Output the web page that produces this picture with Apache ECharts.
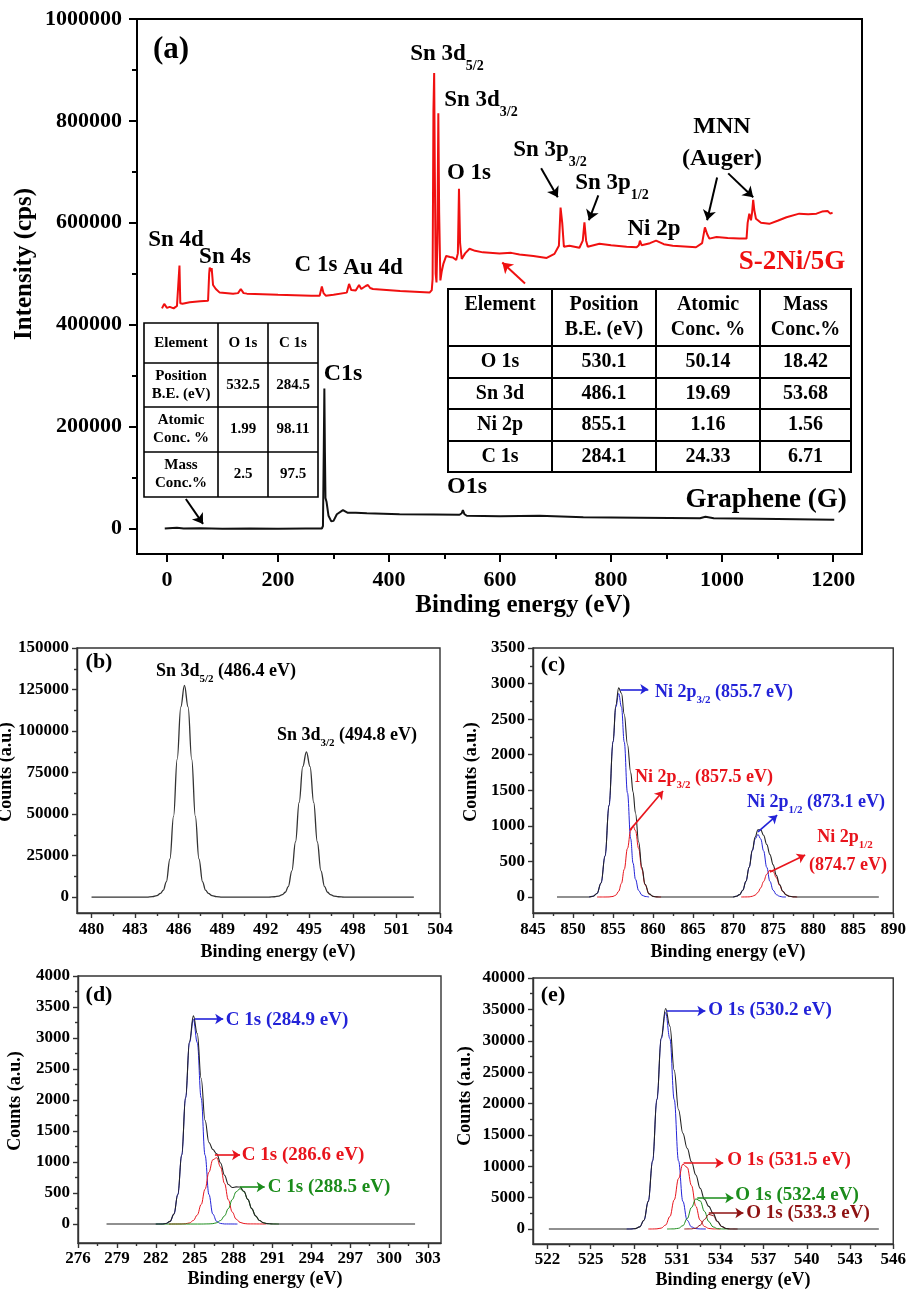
<!DOCTYPE html>
<html><head><meta charset="utf-8">
<script src="https://cdn.jsdelivr.net/npm/echarts@6/dist/echarts.min.js"></script>
<style>html,body{margin:0;padding:0;background:#fff}#c{width:909px;height:1290px}</style>
</head><body><div id="c"></div>
<script>
// ---------- DATA ----------
// (a) survey spectra [binding energy eV, intensity cps]
const aRed = [[-9,432000],[-5,441000],[0,433000],[5,435000],[12,432000],[18,437000],[21,440000],[22.5,516000],[24,442000],[28,441000],[41,444000],[60,446000],[74,447000],[76,500000],[77,512000],[79,505000],[80.5,511000],[83,478000],[88,470000],[95,463000],[119,461000],[128,462000],[133,470000],[138,462000],[144,461000],[200,459000],[260,457000],[275,457000],[279,475000],[282,462000],[286,457000],[300,459000],[324,463000],[328,480000],[332,468000],[340,467000],[346,478000],[350,470000],[353,468000],[358,476000],[362,478000],[366,472000],[371,470000],[420,466000],[473,463000],[477,468000],[478.5,490000],[480,820000],[481.3,894000],[482.5,700000],[484,500000],[485.5,483000],[487,560000],[488.8,815000],[490.3,620000],[492.5,487000],[495,505000],[498,520000],[503,535000],[510,533000],[515,532000],[521,527000],[524,540000],[526,667000],[528,560000],[531,529000],[537,540000],[545,549000],[555,545000],[569,542000],[599,540000],[620,541000],[635,538000],[660,535000],[684,531000],[698,539000],[706,555000],[709,630000],[712,600000],[715,553000],[725,555000],[743,551000],[749,565000],[752,601000],[755,565000],[758,553000],[779,559000],[800,556000],[828,553000],[846,552000],[850,556000],[852,565000],[855,556000],[857,555000],[870,560000],[881,565000],[895,558000],[911,555000],[953,552000],[964,560000],[969,591000],[973,578000],[977,569000],[990,572000],[1010,570000],[1031,569000],[1044,569000],[1046,600000],[1049,618000],[1052,605000],[1054,620000],[1056,645000],[1058,625000],[1061,608000],[1070,600000],[1085,598000],[1100,604000],[1116,611000],[1139,618000],[1155,617000],[1170,618000],[1180,622000],[1190,623000],[1195,618000],[1199,620000]];
const aBlack = [[-4,0],[10,1000],[18,1500],[30,0],[60,500],[100,-500],[150,0],[200,-500],[250,0],[279,0],[281,5000],[282.5,160000],[283.5,275000],[284.5,150000],[285.5,60000],[287.5,52000],[291,25000],[296,14000],[300,15000],[306,28000],[317,36000],[325,31000],[340,31000],[360,30000],[419,28000],[480,27500],[527,27000],[531,30000],[533,36000],[536,28000],[540,25000],[600,24000],[671,25000],[750,22000],[850,21000],[960,20000],[970,23000],[985,20000],[1100,18500],[1202,17000]];
const aArrowsBlack = [[[674,707000],[704,650000]],[[777,654000],[760,605000]],[[991,689000],[973,605000]],[[1011,697000],[1056,650000]],[[34,58000],[65,9000]]];
const aArrowsRed = [[[645,481000],[604,522000]]];

// (b) Sn 3d
const bSn = [[480,0],[482,0],[483.8,0],[484.2,300],[484.5,900],[484.75,2200],[484.95,4200],[485.15,9200],[485.4,23000],[485.65,48600],[485.9,83000],[486.15,114500],[486.4,127500],[486.65,114500],[486.9,83000],[487.15,48600],[487.4,23000],[487.65,9200],[487.85,4200],[488.05,2200],[488.3,900],[488.6,300],[489,0],[491,0],[492.2,0],[492.6,200],[492.9,620],[493.15,1500],[493.35,2900],[493.55,6300],[493.8,15800],[494.05,33300],[494.3,57000],[494.55,78600],[494.8,87500],[495.05,78600],[495.3,57000],[495.55,33300],[495.8,15800],[496.05,6300],[496.25,2900],[496.45,1500],[496.7,620],[497,200],[497.4,0],[499,0],[502.2,0]];

// (c) Ni 2p
const cSum = [[848,0],[852,0],[852.5,10],[853,50],[853.5,196],[854,577],[854.5,1288],[855,2187],[855.35,2698],[855.7,2940],[856.05,2864],[856.4,2568],[856.8,2146],[857.2,1753],[857.5,1475],[857.8,1181],[858.2,772],[858.6,416],[859,179],[859.5,44],[860,8],[860.5,1],[861,0],[870,0],[870.4,10],[870.8,33],[871.2,95],[871.6,220],[872,419],[872.4,660],[872.75,842],[873.1,945],[873.45,944],[873.8,867],[874.2,737],[874.6,596],[875,452],[875.4,304],[875.8,175],[876.2,80],[876.6,31],[877,10],[877.5,2],[878,0],[888.2,0]];
const cBlue1 = [[852,0],[852.5,10],[853,50],[853.5,196],[854,577],[854.5,1287],[855,2179],[855.35,2671],[855.7,2860],[856.05,2671],[856.4,2179],[856.8,1464],[857.2,821],[857.5,475],[857.8,249],[858.2,90],[858.6,27],[859,7],[859.5,0]];
const cRed1 = [[853,0],[854,0],[854.5,1],[855,8],[855.35,27],[855.7,80],[856.05,193],[856.4,389],[856.8,682],[857.2,932],[857.5,1000],[857.8,932],[858.2,682],[858.6,389],[859,172],[859.5,44],[860,8],[860.5,1],[861,0]];
const cBlue2 = [[870,0],[870.4,10],[870.8,33],[871.2,95],[871.6,219],[872,417],[872.4,650],[872.75,815],[873.1,880],[873.45,815],[873.8,650],[874.2,417],[874.6,219],[875,95],[875.4,33],[875.8,10],[876.2,0],[876.6,0]];
const cRed2 = [[871,0],[871.6,1],[872,2],[872.4,10],[872.75,27],[873.1,65],[873.45,129],[873.8,217],[874.2,320],[874.6,377],[875,357],[875.4,271],[875.8,165],[876.2,80],[876.6,31],[877,10],[877.5,2],[878,0]];
const cArrowsBlue = [[[855.9,2920],[859.4,2920]],[[873.1,915],[875.5,1150]]];
const cArrowsRed = [[[857.1,940],[861.25,1490]],[[874.6,350],[879,590]]];

// (d) C 1s
const dSum = [[278.2,0],[282,0],[282.5,1],[282.8,9],[283.1,42],[283.4,160],[283.7,477],[284,1112],[284.3,2039],[284.6,2942],[284.9,3357],[285.2,3070],[285.5,2348],[285.8,1673],[286.1,1316],[286.4,1203],[286.7,1132],[287,983],[287.3,787],[287.6,638],[287.9,588],[288.2,599],[288.5,597],[288.8,528],[289.1,397],[289.4,249],[289.7,131],[290,57],[290.3,21],[290.6,6],[290.9,2],[291.3,0],[302,0]];
const dBlue = [[282,0],[282.5,1],[282.8,9],[283.1,42],[283.4,160],[283.7,477],[284,1111],[284.3,2034],[284.6,2924],[284.9,3300],[285.2,2924],[285.5,2034],[285.8,1111],[286.1,477],[286.4,160],[286.7,42],[287,9],[287.3,1],[288.3,0]];
const dRed = [[283,0],[284,1],[284.3,5],[284.6,18],[284.9,57],[285.2,146],[285.5,314],[285.8,562],[286.1,837],[286.4,1037],[286.7,1069],[287,917],[287.3,655],[287.6,389],[287.9,193],[288.2,79],[288.5,27],[288.8,8],[289.1,2],[290.5,0]];
const dGreen = [[282,0],[285.5,0],[286.1,2],[286.4,6],[286.7,21],[287,57],[287.3,131],[287.6,249],[287.9,395],[288.2,520],[288.5,570],[288.8,520],[289.1,395],[289.4,249],[289.7,131],[290,57],[290.3,21],[290.6,6],[290.9,2],[291.5,0]];
const dArrowsBlue = [[[285,3306],[287.2,3306]]];
const dArrowsRed = [[[286.56,1113],[288.5,1113]]];
const dArrowsGreen = [[[288.5,597],[290.4,597]]];

// (e) O 1s
const eSum = [[522.1,0],[527.5,0],[527.8,9],[528.1,63],[528.4,337],[528.7,1390],[529,4410],[529.3,10843],[529.6,20656],[529.9,30477],[530.2,35128],[530.5,32312],[530.8,25287],[531.1,19000],[531.4,15271],[531.7,12861],[532,10710],[532.3,8606],[532.6,6483],[532.9,4730],[533.2,3600],[533.5,2487],[533.8,1238],[534.1,393],[534.4,76],[534.7,9],[535,0],[545,0]];
const eBlue = [[527.5,0],[527.8,9],[528.1,63],[528.4,337],[528.7,1390],[529,4410],[529.3,10840],[529.6,20630],[529.9,30330],[530.2,34500],[530.5,30330],[530.8,20630],[531.1,10840],[531.4,4410],[531.7,1390],[532,337],[532.3,63],[532.6,9],[533,0]];
const eRed = [[529,0],[529.3,3],[529.6,26],[529.9,147],[530.2,628],[530.5,1982],[530.8,4640],[531.1,8045],[531.4,10330],[531.7,9822],[532,6922],[532.3,3613],[532.6,1399],[532.9,400],[533.2,85],[533.5,13],[534,0]];
const eGreen = [[530.3,0],[530.8,17],[531.1,115],[531.4,531],[531.7,1649],[532,3432],[532.3,4792],[532.6,4483],[532.9,2811],[533.2,1183],[533.5,333],[533.8,63],[534.1,8],[534.6,0]];
const eDarkRed = [[531.5,0],[532,19],[532.3,138],[532.6,592],[532.9,1519],[533.2,2332],[533.5,2141],[533.8,1175],[534.1,385],[534.4,76],[534.7,9],[535.2,0]];
const eArrowsBlue = [[[530.27,34740],[532.96,34740]]];
const eArrowsRed = [[[531.45,10520],[534.2,10520]]];
const eArrowsGreen = [[[532.4,4940],[534.9,4940]]];
const eArrowsDarkRed = [[[533.2,2550],[535.6,2550]]];

// tick values
const aXTicks = [0,200,400,600,800,1000,1200];
const aXMinor = [100,300,500,700,900,1100];
const aYTicks = [0,200000,400000,600000,800000,1000000];
const aYMinor = [100000,300000,500000,700000,900000];
const bXTicks = [480,483,486,489,492,495,498,501,504];
const bXMinor = [481.5,484.5,487.5,490.5,493.5,496.5,499.5,502.5];
const bYTicks = [0,25000,50000,75000,100000,125000,150000];
const bYMinor = [12500,37500,62500,87500,112500,137500];
const cXTicks = [845,850,855,860,865,870,875,880,885,890];
const cXMinor = [847.5,852.5,857.5,862.5,867.5,872.5,877.5,882.5,887.5];
const cYTicks = [0,500,1000,1500,2000,2500,3000,3500];
const cYMinor = [250,750,1250,1750,2250,2750,3250];
const dXTicks = [276,279,282,285,288,291,294,297,300,303];
const dXMinor = [277.5,280.5,283.5,286.5,289.5,292.5,295.5,298.5,301.5];
const dYTicks = [0,500,1000,1500,2000,2500,3000,3500,4000];
const dYMinor = [250,750,1250,1750,2250,2750,3250,3750];
const eXTicks = [522,525,528,531,534,537,540,543,546];
const eXMinor = [523.5,526.5,529.5,532.5,535.5,538.5,541.5,544.5];
const eYTicks = [0,5000,10000,15000,20000,25000,30000,35000,40000];
const eYMinor = [2500,7500,12500,17500,22500,27500,32500,37500];

// tables
const bigHead = [['Element'],['Position','B.E. (eV)'],['Atomic','Conc. %'],['Mass','Conc.%']];
const bigRows = [['O 1s','530.1','50.14','18.42'],['Sn 3d','486.1','19.69','53.68'],['Ni 2p','855.1','1.16','1.56'],['C 1s','284.1','24.33','6.71']];
const smallRows = [[['Element'],['O 1s'],['C 1s']],[['Position','B.E. (eV)'],['532.5'],['284.5']],[['Atomic','Conc. %'],['1.99'],['98.11']],[['Mass','Conc.%'],['2.5'],['97.5']]];

// ---------- BUILD ----------
const FF = '"Liberation Serif","Times New Roman",Times,serif';
const BLUE = '#2323d8', RED = '#e8141c', GREEN = '#1b8c1b', DRED = '#8e1212';

const panels = [
  {g:{left:137,top:19,width:725,height:535}, x:[-54,1252], y:[-50000,1000000], xt:aXTicks, xm:aXMinor, yt:aYTicks, ym:aYMinor, fs:22, xmg:15, ymg:15, tl:8, ml:5, lw:2, col:'#000'},
  {g:{left:77,top:648,width:363,height:265}, x:[479,504], y:[-9600,150000], xt:bXTicks, xm:bXMinor, yt:bYTicks, ym:bYMinor, fs:17, xmg:8, ymg:8, tl:5, ml:3, lw:1.4, col:'#333'},
  {g:{left:533,top:648,width:361,height:265}, x:[845,890], y:[-225,3500], xt:cXTicks, xm:cXMinor, yt:cYTicks, ym:cYMinor, fs:17, xmg:8, ymg:8, tl:5, ml:3, lw:1.4, col:'#333'},
  {g:{left:78,top:976,width:363,height:267}, x:[276,304], y:[-306,4000], xt:dXTicks, xm:dXMinor, yt:dYTicks, ym:dYMinor, fs:17, xmg:7, ymg:8, tl:5, ml:3, lw:1.4, col:'#333'},
  {g:{left:533,top:978,width:364,height:266}, x:[521,546], y:[-2390,40000], xt:eXTicks, xm:eXMinor, yt:eYTicks, ym:eYMinor, fs:17, xmg:7, ymg:8, tl:5, ml:3, lw:1.4, col:'#333'}
];

const grid = [], xAxis = [], yAxis = [];
panels.forEach((p, i) => {
  grid.push(Object.assign({show:true, borderColor:p.col, borderWidth:p.lw, backgroundColor:'transparent'}, p.g));
  grid.push(Object.assign({show:false}, p.g));
  const lab = {show:true, fontFamily:FF, fontWeight:'bold', fontSize:p.fs, color:'#000', formatter: v => String(v)};
  xAxis.push({type:'value', gridIndex:2*i, position:'bottom', min:p.x[0], max:p.x[1], splitLine:{show:false},
    axisLine:{show:true, onZero:false, lineStyle:{color:p.col, width:p.lw}},
    axisTick:{show:true, customValues:p.xt, length:p.tl, lineStyle:{color:p.col, width:p.lw}},
    axisLabel:Object.assign({customValues:p.xt, margin:p.xmg}, lab)});
  xAxis.push({type:'value', gridIndex:2*i+1, position:'bottom', min:p.x[0], max:p.x[1], splitLine:{show:false},
    axisLine:{show:false, onZero:false}, axisLabel:{show:false},
    axisTick:{show:true, customValues:p.xm, length:p.ml, lineStyle:{color:p.col, width:p.lw}}});
  yAxis.push({type:'value', gridIndex:2*i, position:'left', min:p.y[0], max:p.y[1], splitLine:{show:false},
    axisLine:{show:true, onZero:false, lineStyle:{color:p.col, width:p.lw}},
    axisTick:{show:true, customValues:p.yt, length:p.tl, lineStyle:{color:p.col, width:p.lw}},
    axisLabel:Object.assign({customValues:p.yt, margin:p.ymg}, lab)});
  yAxis.push({type:'value', gridIndex:2*i+1, position:'left', min:p.y[0], max:p.y[1], splitLine:{show:false},
    axisLine:{show:false, onZero:false}, axisLabel:{show:false},
    axisTick:{show:true, customValues:p.ym, length:p.ml, lineStyle:{color:p.col, width:p.lw}}});
});

function arrows(list, color, w, size) {
  return {silent:true, symbol:['none','arrow'], symbolSize:size, animation:false,
    label:{show:false}, lineStyle:{color, width:w, type:'solid'}, emphasis:{disabled:true},
    data:list.map(a => [{coord:a[0]},{coord:a[1]}])};
}
function ser(data, p, color, width, smooth, mk) {
  const s = {type:'line', xAxisIndex:2*p, yAxisIndex:2*p, data, symbol:'none', showSymbol:false,
    smooth:smooth, smoothMonotone:'x', silent:true, animation:false, lineStyle:{color, width}};
  if (mk) s.markLine = mk;
  return s;
}
const series = [
  ser(aRed, 0, '#f01010', 2, false, arrows(aArrowsRed, '#f01010', 2, 10)),
  ser(aBlack, 0, '#111', 2, false, arrows(aArrowsBlack, '#000', 2, 10)),
  ser(bSn, 1, '#333', 1.3, 0.4),
  ser(cBlue1, 2, BLUE, 1, 0.4, arrows(cArrowsBlue, BLUE, 1.6, 8)),
  ser(cBlue2, 2, BLUE, 1, 0.4),
  ser(cRed1, 2, RED, 1, 0.4, arrows(cArrowsRed, RED, 1.6, 8)),
  ser(cRed2, 2, RED, 1, 0.4),
  ser(cSum, 2, '#222', 1.1, 0.4),
  ser(dBlue, 3, BLUE, 1, 0.4, arrows(dArrowsBlue, BLUE, 1.6, 8)),
  ser(dRed, 3, RED, 1, 0.4, arrows(dArrowsRed, RED, 1.6, 8)),
  ser(dGreen, 3, GREEN, 1, 0.4, arrows(dArrowsGreen, GREEN, 1.6, 8)),
  ser(dSum, 3, '#222', 1.1, 0.4),
  ser(eBlue, 4, BLUE, 1, 0.4, arrows(eArrowsBlue, BLUE, 1.6, 8)),
  ser(eRed, 4, RED, 1, 0.4, arrows(eArrowsRed, RED, 1.6, 8)),
  ser(eGreen, 4, GREEN, 1, 0.4, arrows(eArrowsGreen, GREEN, 1.6, 8)),
  ser(eDarkRed, 4, DRED, 1, 0.4, arrows(eArrowsDarkRed, DRED, 1.6, 8)),
  ser(eSum, 4, '#222', 1.1, 0.4)
];

// ---------- TEXT / GRAPHICS ----------
function T(x, y, text, size, color, o) {
  o = o || {};
  color = color || '#000';
  const sub = o.sub || Math.round(size * 0.6), pad = o.pad || Math.round(size * 1.0);
  return {type:'text', x, y, rotation:o.rot || 0, silent:true, z:100,
    style:{text, fill:color, fontSize:size, fontFamily:FF, fontWeight:'bold',
      align:o.align || 'center', verticalAlign:'middle', textAlign:o.align || 'center', textVerticalAlign:'middle',
      rich:{s:{fontSize:sub, fontFamily:FF, fontWeight:'bold', fill:color, padding:[pad,0,0,0]}}}};
}
const G = [];
// panel (a)
G.push(T(171, 50, '(a)', 31));
G.push(T(176, 240, 'Sn 4d', 23));
G.push(T(225, 257, 'Sn 4s', 23));
G.push(T(316, 265, 'C 1s', 23));
G.push(T(373, 268, 'Au 4d', 23));
G.push(T(447, 54, 'Sn 3d{s|5/2}', 23, '#000', {sub:14, pad:25}));
G.push(T(481, 100, 'Sn 3d{s|3/2}', 23, '#000', {sub:14, pad:25}));
G.push(T(469, 173, 'O 1s', 23));
G.push(T(550, 150, 'Sn 3p{s|3/2}', 23, '#000', {sub:14, pad:25}));
G.push(T(612, 183, 'Sn 3p{s|1/2}', 23, '#000', {sub:14, pad:25}));
G.push(T(654, 229, 'Ni 2p', 23));
G.push(T(722, 127, 'MNN', 24));
G.push(T(722, 159, '(Auger)', 24));
G.push(T(792, 262, 'S-2Ni/5G', 27, '#f01010'));
G.push(T(343, 374, 'C1s', 24));
G.push(T(467, 487, 'O1s', 24));
G.push(T(766, 500, 'Graphene (G)', 27));
G.push(T(25, 264, 'Intensity (cps)', 25, '#000', {rot:Math.PI/2}));
G.push(T(523, 606, 'Binding energy (eV)', 25));
// panel (b)
G.push(T(99, 662, '(b)', 22));
G.push(T(226, 671, 'Sn 3d{s|5/2} (486.4 eV)', 18, '#000', {sub:11, pad:17}));
G.push(T(347, 735, 'Sn 3d{s|3/2} (494.8 eV)', 18, '#000', {sub:11, pad:17}));
G.push(T(6, 772, 'Counts (a.u.)', 18, '#000', {rot:Math.PI/2}));
G.push(T(278, 952, 'Binding energy (eV)', 18));
// panel (c)
G.push(T(553, 665, '(c)', 22));
G.push(T(724, 692, 'Ni 2p{s|3/2} (855.7 eV)', 18, BLUE, {sub:11, pad:17}));
G.push(T(704, 777, 'Ni 2p{s|3/2} (857.5 eV)', 18, RED, {sub:11, pad:17}));
G.push(T(816, 802, 'Ni 2p{s|1/2} (873.1 eV)', 18, BLUE, {sub:11, pad:17}));
G.push(T(845, 837, 'Ni 2p{s|1/2}', 18, RED, {sub:11, pad:17}));
G.push(T(848, 865, '(874.7 eV)', 18, RED));
G.push(T(471, 772, 'Counts (a.u.)', 18, '#000', {rot:Math.PI/2}));
G.push(T(728, 952, 'Binding energy (eV)', 18));
// panel (d)
G.push(T(99, 995, '(d)', 22));
G.push(T(287, 1020, 'C 1s (284.9 eV)', 19, BLUE));
G.push(T(303, 1155, 'C 1s (286.6 eV)', 19, RED));
G.push(T(329, 1187, 'C 1s (288.5 eV)', 19, GREEN));
G.push(T(15, 1101, 'Counts (a.u.)', 18, '#000', {rot:Math.PI/2}));
G.push(T(265, 1279, 'Binding energy (eV)', 18));
// panel (e)
G.push(T(553, 995, '(e)', 22));
G.push(T(770, 1010, 'O 1s (530.2 eV)', 19, BLUE));
G.push(T(789, 1160, 'O 1s (531.5 eV)', 19, RED));
G.push(T(797, 1195, 'O 1s (532.4 eV)', 19, GREEN));
G.push(T(808, 1213, 'O 1s (533.3 eV)', 19, DRED));
G.push(T(465, 1096, 'Counts (a.u.)', 18, '#000', {rot:Math.PI/2}));
G.push(T(733, 1280, 'Binding energy (eV)', 18));

// tables
function tableFrame(cols, rows, lw) {
  const out = [];
  out.push({type:'rect', z:90, silent:true, shape:{x:cols[0], y:rows[0], width:cols[cols.length-1]-cols[0], height:rows[rows.length-1]-rows[0]}, style:{fill:'#fff', stroke:'#000', lineWidth:lw}});
  cols.slice(1, -1).forEach(c => out.push({type:'line', z:91, silent:true, shape:{x1:c, y1:rows[0], x2:c, y2:rows[rows.length-1]}, style:{stroke:'#000', lineWidth:lw}}));
  rows.slice(1, -1).forEach(r => out.push({type:'line', z:91, silent:true, shape:{x1:cols[0], y1:r, x2:cols[cols.length-1], y2:r}, style:{stroke:'#000', lineWidth:lw}}));
  return out;
}
const bigCols = [448,552,656,760,851], bigRowsY = [289,346,378,409,441,472];
G.push(...tableFrame(bigCols, bigRowsY, 2));
bigHead.forEach((h, j) => {
  const cx = (bigCols[j] + bigCols[j+1]) / 2;
  h.forEach((line, k) => G.push(T(cx, 305 + 25*k, line, 20)));
});
bigRows.forEach((r, i) => {
  const cy = (bigRowsY[i+1] + bigRowsY[i+2]) / 2;
  r.forEach((v, j) => G.push(T((bigCols[j] + bigCols[j+1]) / 2, cy, v, 20)));
});
const smCols = [144,218,268,318], smRowsY = [323,363,407,452,497];
G.push(...tableFrame(smCols, smRowsY, 1.6));
smallRows.forEach((r, i) => {
  const cy = (smRowsY[i] + smRowsY[i+1]) / 2;
  r.forEach((cell, j) => {
    const cx = (smCols[j] + smCols[j+1]) / 2;
    if (cell.length === 1) G.push(T(cx, cy, cell[0], 15));
    else cell.forEach((line, k) => G.push(T(cx, cy - 9 + 18*k, line, 15)));
  });
});

const chart = echarts.init(document.getElementById('c'), null, {renderer:'canvas'});
chart.setOption({animation:false, backgroundColor:'#fff', grid, xAxis, yAxis, series, graphic:{elements:G}});
</script></body></html>
